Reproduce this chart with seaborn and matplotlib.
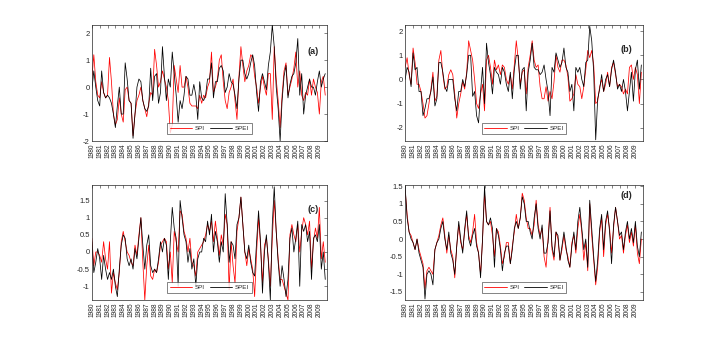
import numpy as np
import pandas as pd
import matplotlib
matplotlib.use("Agg")
import matplotlib.pyplot as plt
import seaborn as sns

# quarterly values, 1980-2009
years = list(range(1980, 2010))

spi_a = [0.3, 1.2, 0.2, -0.3, -0.4, 0.2, -0.2, -0.4, -0.3, 1.1, 0.2, -1.0,
         -1.4, -1.2, -0.4, -1.0, -1.3, -0.1, 0.0, -0.5, -0.6, -1.8, -1.0, -0.5,
         -0.3, 0.0, -0.5, -0.8, -1.1, -0.6, -0.2, -0.3, 1.4, 0.8, 0.0, 0.2,
         0.6, 0.3, 0.0, -0.5, -1.7, -1.4, 0.8, 0.3, -0.2, 0.8, 0.0, 0.0,
         0.4, 0.0, -0.6, -0.7, -0.7, -0.7, -0.8, -0.3, -0.6, -0.3, -0.4, 0.0,
         0.2, 1.3, -0.2, 0.0, 0.3, 1.0, 1.2, 0.2, -0.5, -0.8, -0.2, 0.0,
         0.3, -0.5, -1.2, 0.4, 1.5, 0.8, 0.2, 0.6, 0.8, 1.2, 1.1, 0.4,
         0.0, -0.6, 0.0, 0.4, 0.0, -0.3, 0.5, 0.5, -1.2, 1.5, 0.3, -0.5,
         -1.5, -0.3, 0.6, 0.9, -0.3, 0.0, 0.3, 0.7, 1.3, 0.0, 0.6, -0.3,
         -0.5, -0.2, -0.3, 0.3, -0.3, 0.3, 0.0, -0.2, -1.0, 0.2, 0.4, -0.3]
spei_a = [-0.1, 0.6, 0.0, -0.5, -0.7, 0.6, -0.2, -0.4, -0.3, -0.4, -0.6, -1.0,
          -1.5, -0.7, 0.0, -1.0, -1.0, 0.9, 0.3, -0.5, -0.6, -1.9, -1.0, 0.0,
          0.3, 0.2, -0.5, -0.8, -0.9, -0.7, 0.7, -0.5, 0.4, 0.5, -0.6, -0.2,
          1.5, 0.4, -0.5, 0.3, 0.0, 1.3, 0.5, -0.3, -1.3, -0.5, -0.8, -0.3,
          0.4, 0.3, -0.3, -0.3, 0.1, -0.3, -1.2, 0.2, -0.4, -0.5, -0.3, 0.3,
          0.3, 0.9, -0.4, 0.2, 0.2, 0.7, 0.8, 0.6, -0.2, 0.0, 0.5, 0.2,
          0.1, -0.3, -0.8, 0.3, 1.0, 1.0, 0.5, 0.3, 0.5, 0.9, 1.2, 0.8,
          -0.2, -0.9, 0.2, 0.5, 0.2, -0.1, 0.8, 1.3, 2.3, 1.5, 0.0, -0.8,
          -2.0, -0.5, 0.4, 0.8, -0.4, 0.1, 0.4, 0.5, 0.9, 1.8, -0.3, 0.5,
          -1.0, -0.3, 0.0, 0.3, 0.0, 0.0, -0.3, 0.2, 0.6, 0.0, 0.3, 0.5]

spi_b = [0.5, 0.9, 0.2, -0.2, 1.3, 0.7, -0.2, -0.2, -0.5, -1.0, -1.6, -1.5,
         -1.0, -0.4, 0.3, -0.9, -0.7, 0.8, 1.2, 0.2, -0.4, -0.3, 0.2, 0.4,
         0.2, -0.6, -1.6, -1.0, -0.6, -0.1, -0.4, 0.3, 1.6, 1.2, 0.8, 0.0,
         -1.0, -1.2, -0.6, -0.2, -1.3, 0.8, 1.0, 0.5, -0.2, 0.8, 0.4, 0.6,
         0.2, 0.6, 0.5, 0.0, -0.2, 0.2, -0.4, 0.6, 1.6, 0.8, -0.2, 0.3,
         0.4, -0.6, 0.5, 1.0, 1.6, 0.8, 0.5, 0.6, -0.3, -0.8, -0.8, -0.3,
         -0.9, -0.5, -0.8, -0.1, 1.0, 0.5, 0.3, 0.8, 0.8, 0.6, 0.1, -0.9,
         -0.8, -0.6, 0.2, -0.2, -0.3, -0.8, -0.3, 0.4, 1.2, 0.9, 1.2, 0.6,
         -1.0, -0.9, -0.3, 0.0, -0.5, -0.2, 0.3, -0.3, 0.5, 0.7, 0.2, -0.3,
         -0.2, -0.3, -0.6, -0.4, -0.6, 0.5, 0.6, 0.0, 0.5, 0.2, -1.0, 0.3]
spei_b = [0.0, 0.5, 0.3, -0.3, 1.1, 0.4, 0.5, -0.5, -0.5, -1.5, -1.2, -0.8,
          -0.8, -0.5, 0.1, -1.1, -0.8, 0.7, 0.7, 0.3, -0.3, -0.5, 0.0, 0.0,
          0.0, -0.8, -1.3, -0.5, -0.5, 0.0, -0.3, 0.2, 1.0, 1.0, -0.7, -0.5,
          -1.5, -1.8, -0.5, 0.5, -1.0, 1.5, 0.7, 0.2, -0.6, 0.5, 0.3, 0.2,
          -0.2, 0.5, 0.3, -0.2, -0.5, 0.3, -0.8, 0.4, 1.0, 1.0, -0.4, 0.4,
          0.5, -1.3, 0.3, 0.8, 1.5, 0.5, 0.4, 0.4, 0.2, 0.3, 0.6, 0.0,
          -0.5, -1.5, 0.5, 0.3, 1.1, 0.8, 0.5, 0.7, 1.3, 0.5, 0.3, -0.5,
          -0.2, -1.3, 0.5, 0.3, 0.5, 0.0, -0.3, 0.7, 0.8, 2.2, 1.6, 0.3,
          -2.5, -0.8, -0.4, 0.2, -0.5, 0.0, 0.2, -0.3, 0.4, 0.8, 0.3, -0.4,
          -0.2, -0.5, 0.0, -0.5, -1.3, -0.5, 0.3, -0.9, 0.4, 0.8, -0.4, 0.6]

spi_c = [0.4, -0.4, 0.0, 0.0, -0.1, -0.3, 0.3, -0.2, -0.5, 0.3, -1.2, -0.6,
         -0.9, -1.1, -0.6, 0.3, 0.6, 0.3, 0.0, -0.1, -0.3, -0.4, 0.2, -0.1,
         0.5, 1.0, -0.3, -1.4, -0.4, 0.2, -0.7, -0.8, -0.5, -0.6, -0.3, 0.2,
         0.3, 0.4, 0.3, -0.5, 0.0, -0.9, 0.6, 0.3, 0.0, 1.2, 1.1, 0.6,
         0.4, 0.0, 0.4, -0.3, -0.4, -0.7, 0.0, 0.1, 0.2, 0.3, 0.5, 0.8,
         0.6, 0.9, 0.3, 0.9, 0.4, -0.1, 0.5, 0.2, 1.1, 0.8, -1.1, 0.3,
         -0.4, -0.9, 0.6, 1.0, 1.6, 0.8, 0.0, -0.4, 0.1, -0.2, -0.5, -1.3,
         0.0, 1.0, 0.2, -0.9, 0.2, 0.4, -0.2, -1.0, 0.4, 1.5, 0.6, -0.2,
         -0.8, -0.8, -1.0, -1.2, -1.4, 0.5, 0.8, 0.5, 0.3, 0.8, 0.0, 0.6,
         1.0, 0.8, 0.5, 0.9, -0.5, 0.3, 0.7, 0.4, 1.3, -0.2, 0.3, -0.3]
spei_c = [0.3, -0.6, -0.3, 0.1, -0.2, -0.8, -0.1, -0.5, -0.8, -0.6, -0.8, -0.5,
          -1.0, -1.3, -0.5, 0.2, 0.5, 0.4, -0.2, -0.4, -0.2, -0.5, 0.1, -0.2,
          0.4, 1.0, 0.2, -0.5, 0.2, 0.5, -0.4, -0.6, -0.5, -0.6, -0.2, 0.3,
          0.0, 0.4, 0.2, -0.8, 0.3, 1.3, 0.7, 0.4, -1.0, 1.5, 1.0, 0.5,
          0.3, -0.3, 0.1, -0.5, -0.2, -1.0, -0.2, 0.0, 0.0, 0.4, 0.3, 0.9,
          0.5, 1.1, 0.0, 0.6, 0.3, -0.3, 0.3, 0.0, 1.7, 0.8, -0.3, 0.3,
          0.2, -0.2, 0.8, 1.0, 1.6, 0.8, 0.0, -0.2, 0.2, -0.3, -0.6, -0.7,
          0.3, 1.2, 0.3, -1.2, 0.0, 0.5, -0.3, -1.4, 0.8, 1.9, 0.6, -0.3,
          -1.0, -0.4, -0.8, -1.3, -0.8, 0.4, 0.7, 0.0, 0.4, 0.9, -1.0, 0.8,
          0.6, 0.8, 0.3, 0.6, -0.8, 0.4, 0.5, 0.3, 0.8, -0.5, 0.0, -0.8]

spi_d = [1.4, 0.7, 0.2, 0.1, -0.1, -0.3, 0.0, -0.3, -0.5, -0.7, -1.4, -0.9,
         -0.8, -0.9, -1.0, -0.3, -0.1, 0.1, 0.4, 0.6, 0.1, -0.4, 0.1, -0.3,
         -0.5, -1.1, -0.2, 0.4, -0.1, -0.3, 0.2, 0.7, 0.1, -0.1, 0.2, 0.7,
         -0.1, -0.4, -1.0, 0.0, 1.3, 0.5, 0.4, 0.5, 0.1, -0.5, 0.3, 0.2,
         -0.2, -0.7, -0.5, -0.1, -0.1, -0.7, -0.2, 0.2, 0.7, 0.3, 0.6, 1.3,
         1.1, 0.6, 0.3, 0.3, 0.1, 0.4, 1.1, 0.4, 0.1, 0.3, -0.5, -0.8,
         0.0, 0.9, -0.3, -0.6, 0.2, 0.0, -0.6, -0.3, 0.1, -0.3, -0.5, -0.8,
         -0.1, 0.1, -0.4, 0.3, 0.7, 0.2, -0.6, -0.1, -0.9, 1.0, 0.1, -0.6,
         -1.3, -0.8, 0.2, 0.6, -0.5, 0.4, 0.7, 0.3, -0.4, 0.3, 0.9, 0.5,
         0.0, 0.1, -0.4, 0.1, 0.4, -0.1, 0.2, -0.2, 0.4, -0.4, -0.7, 0.0]
spei_d = [1.5, 0.6, 0.2, 0.0, -0.1, -0.3, 0.0, -0.4, -0.6, -0.8, -1.7, -1.0,
          -0.9, -1.0, -1.3, -0.3, -0.1, 0.0, 0.3, 0.5, 0.0, -0.3, 0.2, -0.4,
          -0.6, -1.0, -0.2, 0.5, 0.0, -0.4, 0.3, 0.8, 0.0, -0.2, 0.1, 0.3,
          -0.2, -0.4, -1.1, 0.0, 1.5, 0.5, 0.4, 0.6, 0.3, -0.8, 0.3, 0.1,
          -0.3, -0.9, -0.4, -0.2, -0.2, -0.7, -0.3, 0.3, 0.5, 0.3, 0.6, 1.2,
          1.0, 0.5, 0.5, 0.2, 0.0, 0.6, 1.0, 0.3, 0.0, 0.4, -0.4, -0.4,
          -0.1, 0.8, -0.2, -0.5, 0.2, 0.1, -0.6, -0.2, 0.2, -0.2, -0.6, -0.8,
          -0.2, 0.2, -0.3, 0.5, 0.9, 0.3, -0.3, 0.0, -0.8, 1.1, 0.3, -0.5,
          -1.2, -0.6, 0.3, 0.7, -0.3, 0.5, 0.8, 0.2, -0.7, 0.4, 0.9, 0.5,
          0.1, 0.2, -0.3, 0.2, 0.5, 0.0, 0.3, -0.1, 0.5, -0.2, -0.5, 0.2]

panels = [("(a)", spi_a, spei_a, (-2.0, 2.3), [-2, -1, 0, 1, 2]),
          ("(b)", spi_b, spei_b, (-2.55, 2.25), [-2, -1, 0, 1, 2]),
          ("(c)", spi_c, spei_c, (-1.4, 1.95), [-1, -0.5, 0, 0.5, 1, 1.5]),
          ("(d)", spi_d, spei_d, (-1.73, 1.53), [-1.5, -1, -0.5, 0, 0.5, 1, 1.5])]
label_pos = [(0.94, 0.77), (0.93, 0.79), (0.94, 0.79), (0.93, 0.91)]

sns.set_theme(style="white")
plt.rcParams['font.family'] = ['Liberation Sans', 'DejaVu Sans']
plt.rcParams['axes.edgecolor'] = '#262626'
plt.rcParams['axes.linewidth'] = 0.5

fig = plt.figure(figsize=(7.12, 3.39), dpi=100)
rects = [[0.129, 0.584, 0.330, 0.342], [0.569, 0.584, 0.334, 0.342],
         [0.129, 0.115, 0.330, 0.339], [0.569, 0.115, 0.334, 0.339]]

t = np.array([y + q / 4 for y in years for q in range(4)])

for (lab, spi, spei, ylim, yt), rect, lp in zip(panels, rects, label_pos):
    ax = fig.add_axes(rect)
    df = pd.DataFrame({
        "t": np.concatenate([t, t]),
        "v": spi + spei,
        "index": ["SPI"] * len(spi) + ["SPEI"] * len(spei),
    })
    sns.lineplot(data=df, x="t", y="v", hue="index",
                 palette={"SPI": "#ff0000", "SPEI": "#000000"},
                 linewidth=0.55, ax=ax)
    ax.set_xlim(1980, 2009.95)
    ax.set_ylim(*ylim)
    ax.set_xticks(years)
    ax.set_xticklabels([str(y) for y in years], rotation=90, fontsize=4.8)
    ax.set_yticks(yt)
    ax.set_yticklabels([f"{v:g}" for v in yt], fontsize=5.5)
    ax.tick_params(direction="in", length=2, width=0.4, top=True, right=True,
                   pad=1.5, colors="#262626")
    ax.set_xlabel("")
    ax.set_ylabel("")
    ax.text(lp[0], lp[1], lab, transform=ax.transAxes, fontsize=6.5,
            fontweight="bold", ha="center", va="center")
    leg = ax.legend(loc="lower center", ncol=2, fontsize=4.5, frameon=True,
                    fancybox=False, edgecolor="#262626", handlelength=3.6,
                    columnspacing=0.8, borderpad=0.45, handletextpad=0.4,
                    borderaxespad=0, bbox_to_anchor=(0.5, 0.06))
    leg.get_frame().set_linewidth(0.5)
    for line in leg.get_lines():
        line.set_linewidth(0.6)

fig.savefig("out.png", dpi=100)
